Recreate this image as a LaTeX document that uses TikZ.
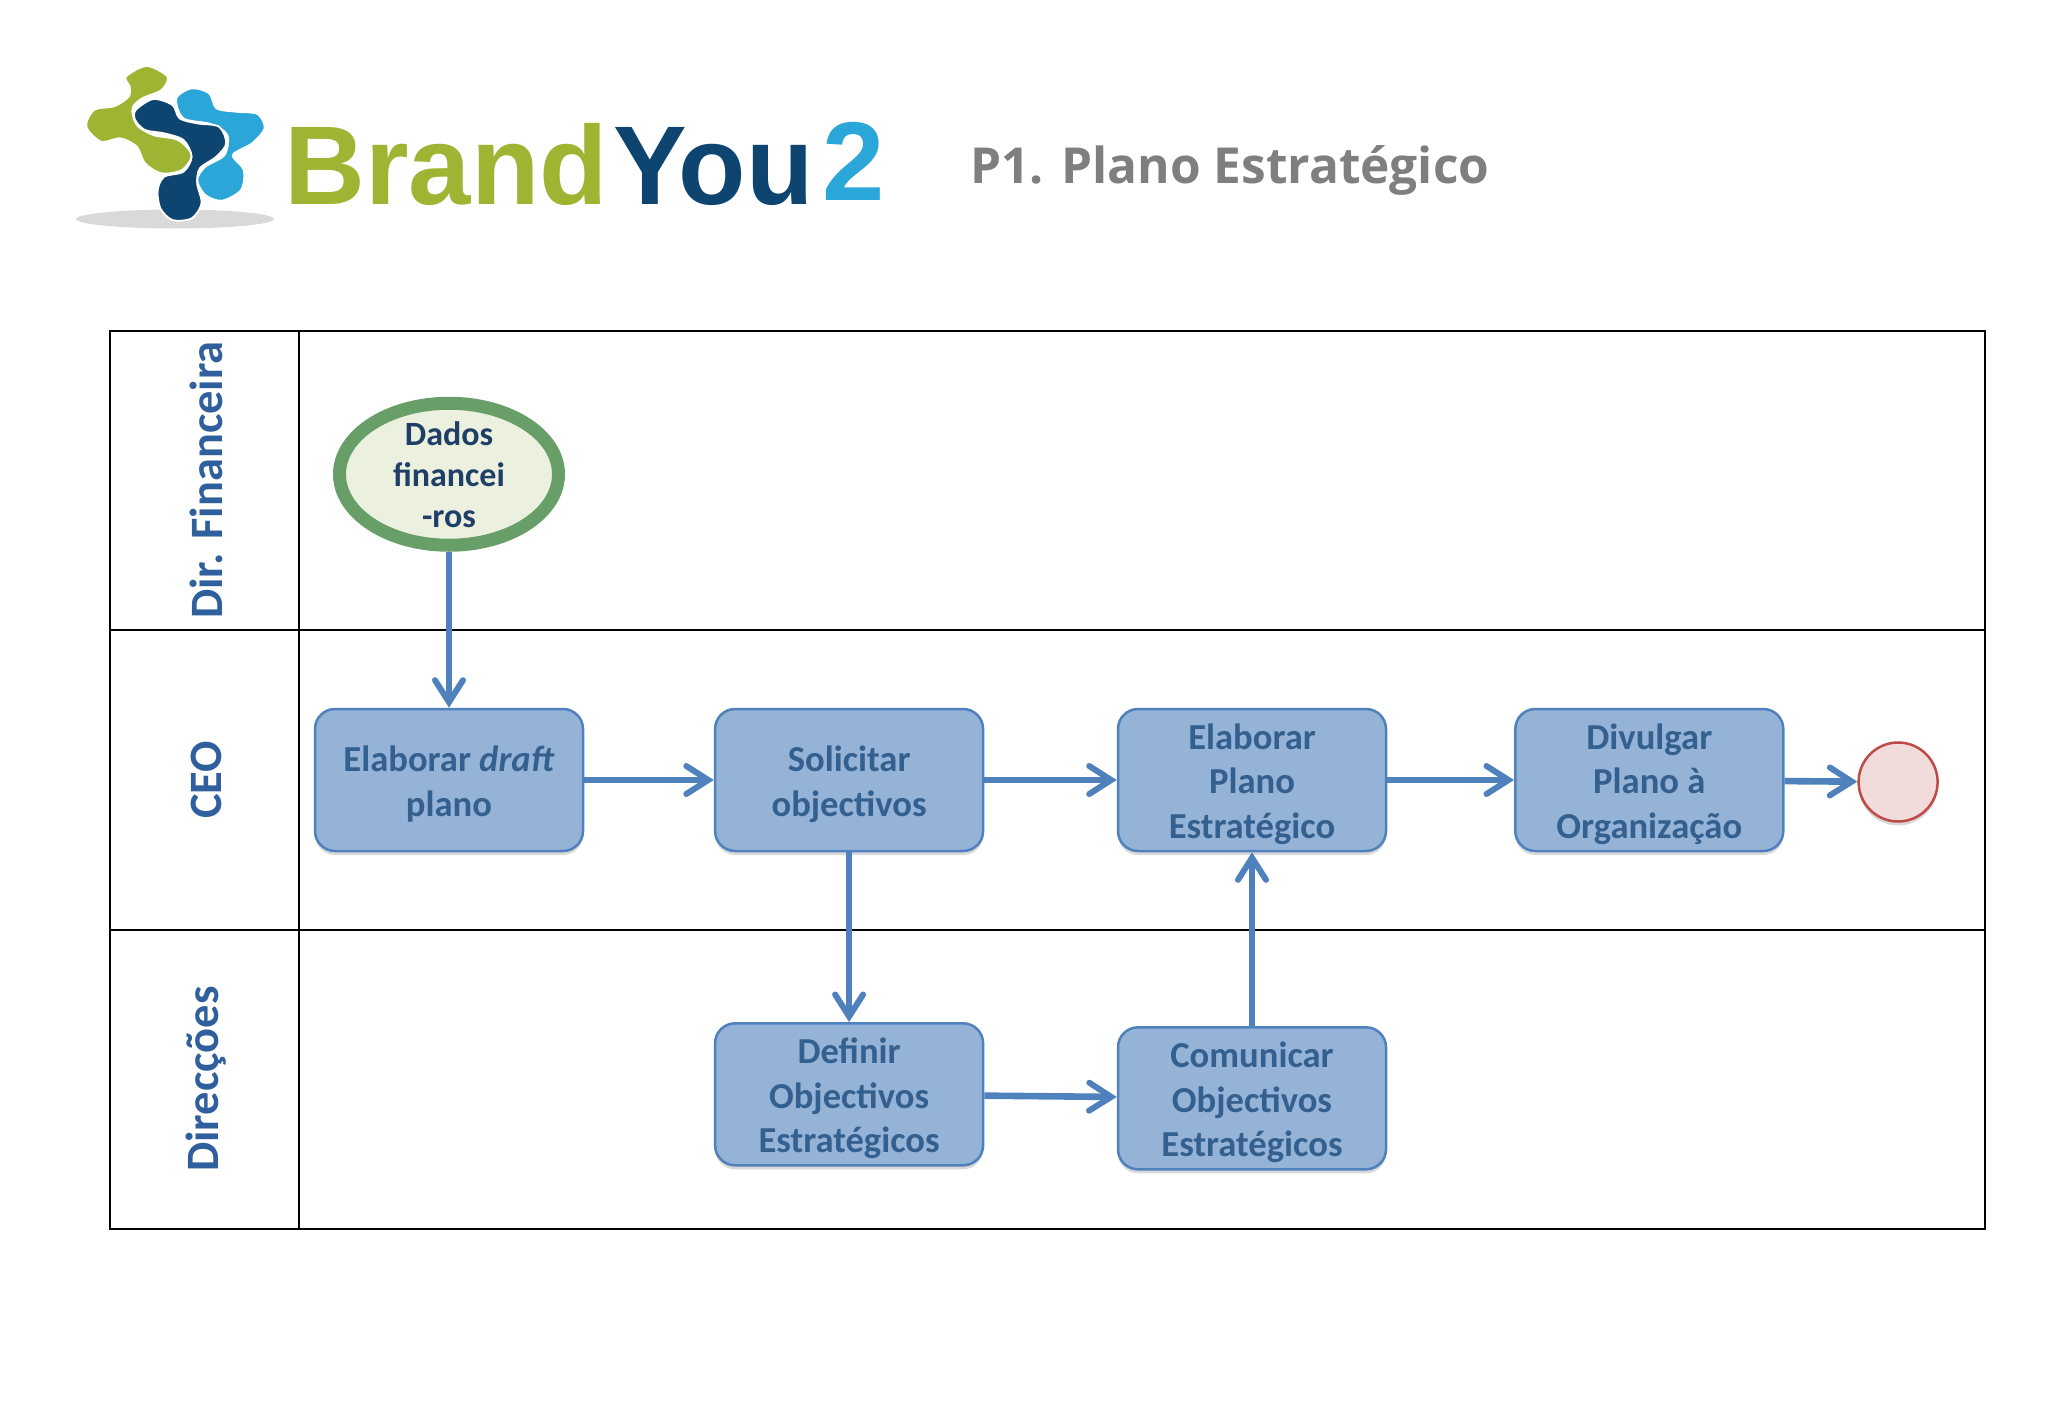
\documentclass[tikz,border=0pt]{standalone}
\usepackage{fontspec}
\setmainfont{Carlito}
\newfontfamily\logofont{Liberation Sans}
\newfontfamily\titlefont{Open Sans}
\usepackage{xcolor}
\usepackage{tikz}
\usetikzlibrary{arrows.meta,positioning,shapes.geometric,shadows}
\definecolor{laneblue}{HTML}{2F5F9C}
\definecolor{boxfill}{HTML}{95B3D7}
\definecolor{boxline}{HTML}{4F81BD}
\definecolor{boxtext}{HTML}{33608F}
\definecolor{startline}{HTML}{689F68}
\definecolor{startfill}{HTML}{EBF1DE}
\definecolor{starttext}{HTML}{1F3F68}
\definecolor{endline}{HTML}{BE4B48}
\definecolor{endfill}{HTML}{F2DCDB}
\definecolor{logogreen}{HTML}{9DB533}
\definecolor{logonavy}{HTML}{0E4570}
\definecolor{logoblue}{HTML}{2BA6D8}
\definecolor{titlegrey}{HTML}{7F7F7F}
\newcommand{\lift}{\rule{0pt}{17pt}}

\begin{document}
\begin{tikzpicture}[
  x=.5pt,y=-.5pt,
  softshadow/.style={drop shadow={opacity=.3,shadow xshift=0pt,shadow yshift=-2pt}},
  task/.style={draw=boxline,line width=1.25pt,rounded corners=10pt,fill=boxfill,text=boxtext,minimum width=134pt,minimum height=71pt,align=center,font=\fontsize{18.3}{22.2}\selectfont\bfseries,inner sep=0pt,softshadow},
  start/.style={ellipse,draw=startline,line width=6.5pt,fill=startfill,text=starttext,minimum width=109.5pt,minimum height=71pt,align=center,font=\fontsize{17}{20.5}\selectfont\bfseries,inner xsep=0pt,inner ysep=-2pt,softshadow},
  finish/.style={circle,draw=endline,line width=1.25pt,fill=endfill,minimum size=39.5pt,inner sep=0pt,softshadow},
  lane/.style={rotate=90,text=laneblue,font=\fontsize{23.2}{28}\selectfont\bfseries,inner sep=0pt},
  arr/.style={-{Straight Barb[length=11pt,width=14pt,line width=3pt,line cap=round]},line width=3.3pt,draw=boxline},
  logotext/.style={anchor=base west,inner sep=0pt,font=\logofont\fontsize{56}{56}\selectfont\bfseries}
]
\useasboundingbox (0,0) rectangle (2048,1418);
% logo
\fill[black!15] (175,219) ellipse [x radius=99,y radius=9.5];
\begin{scope}[shift={(60,40)},x=.2743pt,y=-.1667pt,draw=white,line width=.9pt]
\filldraw[fill=logogreen] plot[smooth cycle] coordinates {(120,110) (158,78) (196,110) (185,150) (150,175) (132,205) (140,255) (170,285) (215,300) (240,345) (222,390) (185,400) (155,370) (140,320) (110,295) (75,305) (48,260) (62,210) (100,198) (125,170) (127,140)};
\filldraw[fill=logoblue] plot[smooth cycle] coordinates {(212,175) (240,145) (272,160) (285,205) (320,215) (360,222) (373,265) (350,310) (315,345) (335,390) (330,450) (295,482) (265,465) (250,420) (265,380) (300,345) (305,285) (275,252) (225,235)};
\filldraw[fill=logonavy] plot[smooth cycle] coordinates {(138,210) (170,177) (205,195) (218,235) (250,250) (290,260) (303,310) (285,350) (255,385) (250,430) (258,490) (240,535) (205,540) (183,505) (178,450) (190,410) (225,395) (240,350) (225,300) (190,280) (155,270) (137,240)};
\end{scope}
\node[logotext,text=logogreen] (brand) at (284,204) {Brand};
\node[logotext,text=logonavy,xscale=.985] (you) at (613,204) {You};
\node[logotext,text=logoblue] (two) at (822,200) {2};
\node[anchor=base west,inner sep=0pt,text=titlegrey,font=\titlefont\fontsize{24.8}{30}\selectfont\bfseries] (title) at (970,183) {P1. Plano Estratégico};
% lanes
\draw[line width=1.4pt] (110,331) rectangle (1985,630);
\draw[line width=1.4pt] (110,630) rectangle (1985,930);
\draw[line width=1.4pt] (110,930) rectangle (1985,1229);
\draw[line width=1.4pt] (299,331) -- (299,1229);
\node[lane] (fin) at (206,480) {Dir. Financeira};
\node[lane] (ceo) at (206,780) {CEO};
\node[lane] (dir) at (206,1079) {Direcções};
% tasks
\node[task] (draft) at (449,780) {\lift Elaborar \textit{draft}\\plano};
\node[task,right=64.8pt of draft] (ask) {\lift Solicitar\\objectivos};
\node[task,right=66.2pt of ask] (plan) {\lift Elaborar\\Plano\\Estratégico};
\node[task,right=63.4pt of plan] (share) {\lift Divulgar\\Plano à\\Organização};
\node[finish,right=36.4pt of share,yshift=-1pt] (end) {};
\node[task,below=84.9pt of ask] (goals) {\lift Definir\\Objectivos\\Estratégicos};
\node[task,right=66.2pt of goals,yshift=-2pt] (tell) {\lift Comunicar\\Objectivos\\Estratégicos};
\node[start,above=78pt of draft] (data) {Dados\\financei\\-ros};
\draw[arr] (data.south) -- (draft);
\draw[arr] (draft) -- (ask);
\draw[arr] (ask) -- (plan);
\draw[arr] (plan) -- (share);
\draw[arr] (share) -- (end);
\draw[arr] (ask) -- (goals);
\draw[arr] (goals) -- (tell);
\draw[arr] (tell) -- (plan);
\end{tikzpicture}
\end{document}
